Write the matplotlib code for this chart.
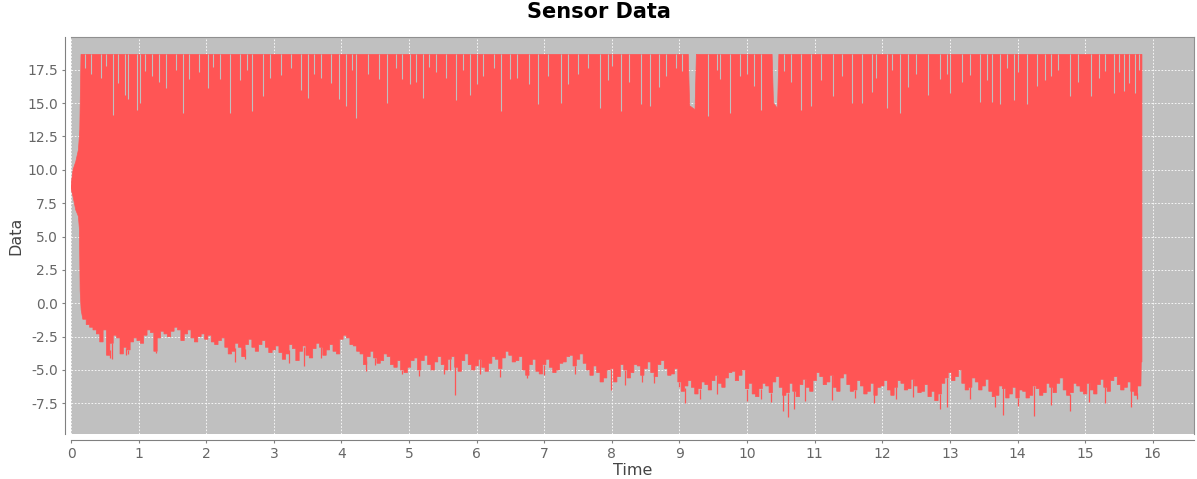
import numpy as np
import matplotlib.pyplot as plt

plt.rcParams['font.family'] = ['DejaVu Sans']

# 数据起始段 (传感器刚启动, 0 ~ 0.15 s)
start_t = [0.0, 0.03, 0.07, 0.11, 0.125, 0.135, 0.15]
start_lo = [8.6, 8.0, 7.0, 6.5, 5.5, 1.0, -0.5]

# 下包络 (每 0.1 s 读一次图)
grid_t = [round(0.2 + 0.1 * i, 1) for i in range(157)]
grid_lo = [
    -1.2, -1.8, -2.3, -2.0, -3.0, -2.6, -3.3, -2.9, -2.8, -2.4,
    -2.2, -2.6, -2.3, -2.1, -2.0, -2.3, -2.6, -2.5, -2.7, -2.9,
    -2.8, -3.3, -3.6, -3.3, -3.1, -3.3, -3.1, -3.3, -3.5, -3.7,
    -3.8, -3.4, -3.6, -3.9, -3.4, -3.3, -3.5, -3.6, -2.7, -2.6,
    -3.2, -3.8, -4.0, -4.1, -4.3, -4.0, -4.8, -5.0, -4.8, -4.1,
    -4.3, -4.6, -4.4, -4.6, -4.2, -4.8, -4.3, -4.6, -4.7, -4.8,
    -4.5, -4.2, -4.1, -3.9, -4.3, -5.0, -4.6, -5.1, -4.6, -4.8,
    -5.0, -4.4, -3.9, -4.2, -4.5, -5.4, -5.2, -5.6, -4.9, -5.5,
    -5.0, -5.2, -4.7, -4.9, -5.2, -4.6, -4.9, -5.3, -5.9, -6.2,
    -6.3, -6.4, -6.1, -5.8, -6.0, -5.6, -5.1, -5.4, -6.4, -6.8,
    -6.4, -6.2, -5.9, -6.3, -6.7, -6.6, -6.1, -6.3, -5.8, -5.5,
    -5.9, -6.3, -5.6, -6.1, -6.5, -6.2, -6.6, -6.9, -6.2, -6.5,
    -6.3, -6.0, -6.4, -6.2, -6.6, -7.0, -7.3, -6.0, -5.2, -5.5,
    -6.0, -6.3, -5.9, -6.2, -6.6, -6.9, -6.4, -6.8, -7.1, -6.6,
    -6.9, -6.4, -6.7, -6.3, -6.0, -6.5, -6.7, -6.2, -6.8, -6.5,
    -6.1, -6.3, -5.8, -6.1, -6.3, -6.6, -6.2,
]
# 半格处的读数 (0.25, 0.35, ... 15.75)
mid_t = [round(0.25 + 0.1 * i, 2) for i in range(156)]
mid_lo = [
    -1.6, -2.0, -2.9, -3.9, -2.4, -3.8, -3.5, -2.6, -3.0, -2.0,
    -3.6, -2.1, -2.5, -1.8, -2.8, -2.0, -2.9, -2.3, -2.4, -3.1,
    -2.6, -3.8, -3.0, -4.0, -2.7, -3.6, -2.8, -3.7, -3.2, -4.2,
    -3.1, -4.3, -3.2, -4.1, -3.0, -3.9, -3.1, -3.8, -2.4, -3.1,
    -3.6, -4.6, -3.6, -4.5, -3.8, -4.6, -4.3, -5.2, -4.3, -5.0,
    -3.9, -5.0, -4.0, -5.0, -4.0, -5.1, -3.8, -5.0, -4.2, -5.1,
    -4.0, -4.9, -3.6, -4.4, -4.0, -5.4, -4.2, -5.3, -4.2, -5.2,
    -4.5, -4.0, -4.7, -3.8, -5.0, -4.7, -5.9, -5.0, -5.9, -4.6,
    -5.6, -4.6, -5.4, -4.4, -5.5, -4.3, -5.4, -4.9, -6.6, -5.8,
    -6.8, -5.9, -6.5, -5.4, -6.3, -5.2, -5.8, -5.0, -6.0, -7.0,
    -6.0, -6.7, -5.5, -6.9, -6.0, -7.0, -5.7, -6.6, -5.2, -6.1,
    -5.4, -6.6, -5.3, -6.6, -5.8, -6.8, -6.0, -6.3, -5.8, -6.9,
    -5.8, -6.5, -5.7, -6.7, -6.1, -6.6, -6.8, -5.6, -5.8, -5.0,
    -6.5, -5.6, -6.5, -5.7, -7.0, -6.2, -7.1, -6.3, -6.5, -7.1,
    -6.2, -6.9, -6.0, -6.7, -5.6, -6.9, -6.0, -6.6, -6.0, -6.8,
    -5.7, -6.6, -5.5, -6.5, -5.9, -6.9,
]
end_t = 15.84
end_lo = -4.4

# 上包络 (饱和在 18.65, 含两段较宽的回落)
hi_t = [0.0, 0.03, 0.07, 0.11, 0.13, 0.148, 9.13, 9.15, 9.23, 9.25,
        10.37, 10.39, 10.45, 10.47, 15.84]
hi_v = [8.8, 10.0, 10.6, 11.5, 13.0, 18.65, 18.65, 14.8, 14.5, 18.65,
        18.65, 15.0, 14.6, 18.65, 18.65]

# 顶部向下的缺口
dip_t = [0.62, 0.8, 0.84, 0.98, 1.02, 1.4, 1.65, 2.03, 2.35, 2.67, 2.84,
         3.4, 3.5, 3.97, 4.07, 4.22, 4.67, 5.02, 5.2, 5.7, 5.9, 6.36,
         6.77, 6.9, 7.25, 7.83, 8.13, 8.43, 8.57, 9.04, 9.42, 9.75,
         10.2, 10.8, 10.95, 11.27, 11.55, 11.7, 12.07, 12.26, 12.68,
         13.0, 13.18, 13.45, 13.62, 13.74, 13.95, 14.14, 14.29, 14.77,
         15.08, 15.42, 15.58, 15.73,
         0.3, 1.2, 1.9, 2.2, 3.1, 3.7, 4.4, 4.9, 5.4, 6.1, 6.6, 7.5,
         7.95, 8.8, 9.6, 10.0, 10.65, 11.4, 11.9, 12.5, 12.85, 13.3,
         14.0, 14.5, 15.2, 15.5,
         0.2, 0.45, 0.52, 0.7, 1.1, 1.3, 1.55, 1.75, 2.1, 2.5, 2.6, 2.95,
         3.25, 3.6, 3.85, 4.15, 4.55, 4.8, 5.1, 5.3, 5.55, 5.8, 6.0, 6.25,
         6.5, 7.05, 7.35, 7.65, 8.0, 8.25, 8.7, 8.95, 9.55, 9.9, 10.1,
         10.55, 11.1, 11.85, 12.15, 12.38, 12.95, 13.55, 13.85, 14.4,
         14.6, 14.9, 15.3, 15.65, 15.8]
dip_v = [14.1, 15.6, 15.3, 14.5, 15.0, 16.1, 14.25, 16.1, 14.25, 14.4, 15.5,
         16.0, 15.4, 15.3, 14.75, 13.9, 15.0, 16.4, 15.4, 15.25, 15.6, 14.4,
         16.4, 14.9, 15.0, 14.6, 14.4, 14.9, 14.75, 17.4, 14.0, 14.25,
         14.5, 14.5, 14.8, 15.5, 15.0, 15.0, 14.6, 14.25, 15.6,
         15.75, 16.6, 15.1, 15.1, 14.9, 15.25, 14.9, 16.25, 15.5,
         15.5, 15.75, 15.9, 15.75,
         17.2, 17.0, 17.3, 16.8, 17.1, 16.9, 17.2, 16.8, 17.3, 17.0, 16.9, 17.2,
         16.7, 17.0, 16.8, 17.2, 16.6, 17.0, 16.9, 17.2, 16.8, 17.1,
         17.3, 17.0, 16.9, 17.3,
         17.6, 16.9, 17.8, 16.5, 17.4, 16.6, 17.5, 16.8, 17.7, 16.7, 17.5, 16.9,
         17.6, 17.2, 16.5, 17.5, 16.8, 17.6, 16.6, 17.7, 16.9, 17.5, 16.4, 17.6,
         16.8, 17.0, 16.4, 17.6, 17.8, 16.6, 16.2, 17.6, 17.5, 17.0, 16.3,
         17.4, 16.7, 15.8, 17.5, 16.2, 17.2, 16.7, 17.6, 16.7,
         17.5, 16.6, 17.4, 16.5, 17.5]

# 底部向下的尖峰
spike_t = [0.57, 0.6, 0.82, 0.85, 1.25, 2.42, 2.58, 3.22, 3.44, 3.7, 4.37,
           4.5, 4.9, 5.15, 5.52, 5.6, 5.68, 6.05, 6.35, 6.75, 7.0, 7.45,
           7.98, 8.2, 8.45, 8.62, 9.0, 9.08, 9.3, 9.55, 10.0, 10.2, 10.35,
           10.53, 10.6, 10.7, 10.85, 11.25, 11.6, 11.87, 12.2, 12.45, 12.85,
           12.95, 13.3, 13.67, 13.78, 14.0, 14.25, 14.5, 14.77, 15.05, 15.3,
           15.68, 15.76]
spike_v = [-4.1, -4.2, -3.9, -3.8, -3.75, -4.4, -4.2, -4.5, -4.7, -4.1, -5.1,
           -4.6, -5.3, -5.45, -5.3, -5.0, -6.9, -5.3, -5.5, -5.6, -5.4, -5.3,
           -6.5, -6.1, -5.9, -6.0, -6.3, -7.5, -7.2, -6.8, -7.3, -7.2, -7.4,
           -8.1, -8.5, -7.9, -7.3, -7.25, -7.1, -7.5, -7.2, -7.0, -7.9,
           -7.8, -7.2, -7.75, -8.4, -7.7, -8.45, -7.6, -8.05, -7.4, -7.5,
           -7.75, -7.2]

red = '#FF5555'
bg = '#C0C0C0'

fig = plt.figure(figsize=(11.97, 4.79), dpi=100)
ax = fig.add_axes([71 / 1197, 1 - 434 / 479, 1123 / 1197, 397 / 479])
ax.set_facecolor(bg)
ax.set_axisbelow(True)

# 下包络按时间排序, 画成台阶 (每个读数占半格)
lo_t = np.array(grid_t + mid_t)
lo_v = np.array(grid_lo + mid_lo)
order = np.argsort(lo_t)
lo_t, lo_v = lo_t[order], lo_v[order]
half = 0.025
step_t = np.column_stack([lo_t - half, lo_t + half]).ravel()
step_v = np.repeat(lo_v, 2)
low_x = np.concatenate([start_t, step_t, [end_t - 0.01, end_t]])
low_y = np.concatenate([start_lo, step_v, [end_lo, end_lo]])

poly_x = np.concatenate([hi_t, low_x[::-1]])
poly_y = np.concatenate([hi_v, low_y[::-1]])
ax.fill(poly_x, poly_y, color=red, linewidth=0.5, edgecolor=red, zorder=2)

# 下方尖峰从包络延伸出来
base = np.interp(spike_t, lo_t, lo_v)
ax.vlines(spike_t, spike_v, base, color=red, linewidth=0.9, zorder=2)
ax.vlines(dip_t, dip_v, 18.7, color=bg, linewidth=0.8, zorder=3)

ax.set_xlim(0, 16.61)
ax.set_ylim(-9.8, 19.95)
ax.set_xticks(np.arange(0, 17, 1))
ax.set_yticks(np.arange(-7.5, 18, 2.5))
ax.yaxis.set_major_formatter(plt.FormatStrFormatter('%.1f'))
ax.grid(True, color='white', linestyle=(0, (2, 2)), linewidth=0.6)

for side in ['top', 'right']:
    ax.spines[side].set_color('#909090')
    ax.spines[side].set_linewidth(0.8)
for side in ['left', 'bottom']:
    ax.spines[side].set_position(('outward', 4))
    ax.spines[side].set_color('#808080')
    ax.spines[side].set_linewidth(0.8)
ax.tick_params(colors='#808080', labelcolor='#666666', labelsize=10,
               length=2, width=0.8)

ax.set_xlabel('Time', fontsize=11.5, color='#444444', labelpad=1)
ax.set_ylabel('Data', fontsize=11.5, color='#444444', labelpad=3)
fig.suptitle('Sensor Data', fontsize=15, fontweight='bold', y=0.995, va='top')

plt.savefig('out.png', dpi=100)
plt.close()
